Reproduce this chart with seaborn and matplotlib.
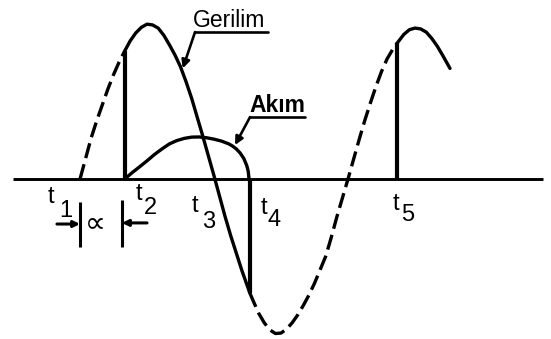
import numpy as np
import pandas as pd
import matplotlib
matplotlib.use("Agg")
import matplotlib.pyplot as plt
import seaborn as sns

# Supply voltage (per unit of its peak) against angle in degrees, t1 = 0
volt_angle = [0, 7.5, 15, 22.5, 30, 37.5, 45, 52.5, 60, 67.5, 75, 82.5, 90,
              97.5, 105, 112.5, 120, 127.5, 135, 142.5, 150, 157.5, 165, 172.5,
              180, 187.5, 195, 202.5, 210, 217.5, 225, 228, 232.5, 240, 247.5,
              255, 262.5, 270, 277.5, 285, 292.5, 300, 307.5, 315, 322.5, 330,
              337.5, 345, 352.5, 360, 367.5, 375, 382.5, 390, 397.5, 405, 412.5,
              420, 426, 435, 442.5, 450, 457.5, 465, 472.5, 480, 487.5, 497]
volt_value = [0.00, 0.13, 0.26, 0.37, 0.47, 0.57, 0.66, 0.74, 0.81, 0.875,
              0.925, 0.96, 0.98, 0.975, 0.955, 0.91, 0.85, 0.785, 0.71, 0.615,
              0.51, 0.39, 0.27, 0.145, 0.02, -0.11, -0.24, -0.36, -0.47, -0.58,
              -0.68, -0.72, -0.77, -0.85, -0.91, -0.955, -0.978, -0.975, -0.95,
              -0.91, -0.86, -0.80, -0.735, -0.66, -0.575, -0.49, -0.37, -0.24,
              -0.12, 0.00, 0.125, 0.25, 0.37, 0.48, 0.585, 0.68, 0.76, 0.82,
              0.86, 0.915, 0.945, 0.955, 0.95, 0.93, 0.89, 0.84, 0.78, 0.70]

# Load current (Akım) during conduction, from firing (t2) to extinction (t4)
curr_angle = [60, 70, 80, 90, 100, 110, 120, 130, 140, 150, 160, 170, 180, 190,
              200, 205, 210, 215, 220, 224, 226, 227]
curr_value = [0.00, 0.040, 0.077, 0.115, 0.155, 0.190, 0.222, 0.243, 0.257,
              0.265, 0.266, 0.261, 0.252, 0.240, 0.222, 0.208, 0.190, 0.165,
              0.130, 0.085, 0.048, 0.00]

# Instants on the time axis
t_names = ["1", "2", "3", "4", "5"]
t_fire, t_off, t_next = 60, 228, 426

volt = pd.DataFrame({"angle": volt_angle, "v": volt_value})
curr = pd.DataFrame({"angle": curr_angle, "i": curr_value})
v_at = dict(zip(volt_angle, volt_value))

sns.set_style("white")
fig = plt.figure(figsize=(5.51, 3.39), dpi=100)
ax = fig.add_axes([0, 0, 1, 1])

K = "black"
LW = 2.4
dash = (0, (4.6, 1.9))

# Time axis
ax.plot([-90, 622], [0, 0], color=K, lw=2.1, solid_capstyle="butt")

# Voltage: dashed while the thyristor is blocking, solid while conducting
seg = [
    (volt[(volt.angle >= 0) & (volt.angle <= t_fire)], dash),
    (volt[(volt.angle >= t_fire) & (volt.angle <= t_off)], "-"),
    (volt[(volt.angle >= t_off) & (volt.angle <= t_next)], dash),
    (volt[volt.angle >= t_next], "-"),
]
for part, ls in seg:
    sns.lineplot(data=part, x="angle", y="v", ax=ax, color=K, lw=LW,
                 linestyle=ls, estimator=None, sort=False, legend=False)

# Current
sns.lineplot(data=curr, x="angle", y="i", ax=ax, color=K, lw=LW,
             estimator=None, sort=False, legend=False)

# Vertical voltage steps at t2, t4, t5
ax.vlines([t_fire, t_off, t_next], 0, [v_at[t_fire], v_at[t_off], v_at[t_next]],
          color=K, lw=3.0)

ax.set_xlim(-107.5, 632.7)
ax.set_ylim(-1.0127, 1.1329)
ax.axis("off")

# t labels: letter with lowered index
lbl_font = dict(family="Liberation Sans", fontsize=17, color=K)
t_pos = [(-44.0, -0.152, -27.5, -0.240),
         (74.5, -0.133, 85.5, -0.220),
         (149.5, -0.209, 164.5, -0.310),
         (242.5, -0.222, 252.5, -0.300),
         (419.5, -0.196, 431.5, -0.265)]
for name, (tx, ty, nx, ny) in zip(t_names, t_pos):
    ax.text(tx, ty, "t", ha="left", va="baseline", **lbl_font)
    ax.text(nx, ny, name, ha="left", va="baseline", **lbl_font)

# Firing angle marker
ax.vlines([0, 56.4], [-0.43, -0.43], [-0.146, -0.133], color=K, lw=2.2)
ax.annotate("", xy=(0, -0.285), xytext=(-31, -0.285),
            arrowprops=dict(arrowstyle="-|>", color=K, lw=2.2,
                            mutation_scale=9, shrinkA=0, shrinkB=0))
ax.annotate("", xy=(56.4, -0.278), xytext=(90, -0.278),
            arrowprops=dict(arrowstyle="-|>", color=K, lw=2.2,
                            mutation_scale=9, shrinkA=0, shrinkB=0))
ax.text(20.5, -0.282, "\u221d", ha="center", va="center", fontsize=21,
        family="DejaVu Sans", color=K)

# Curve names with underlined leaders
ax.text(151.8, 0.962, "Gerilim", ha="left", va="baseline",
        family="Liberation Sans", fontsize=16.5, color=K)
ax.plot([154.5, 252.5], [0.930, 0.930], color=K, lw=1.9)
ax.annotate("", xy=(138.0, 0.70), xytext=(154.5, 0.930),
            arrowprops=dict(arrowstyle="-|>", color=K, lw=1.9,
                            mutation_scale=12, shrinkA=0, shrinkB=0))

ax.text(228.0, 0.424, "Akım", ha="left", va="baseline",
        family="Liberation Sans", fontweight="bold", fontsize=16.5, color=K)
ax.plot([228.4, 302.3], [0.392, 0.392], color=K, lw=1.9)
ax.annotate("", xy=(208.2, 0.215), xytext=(228.4, 0.392),
            arrowprops=dict(arrowstyle="-|>", color=K, lw=1.9,
                            mutation_scale=12, shrinkA=0, shrinkB=0))

fig.savefig("out.png", dpi=100, facecolor="white")
